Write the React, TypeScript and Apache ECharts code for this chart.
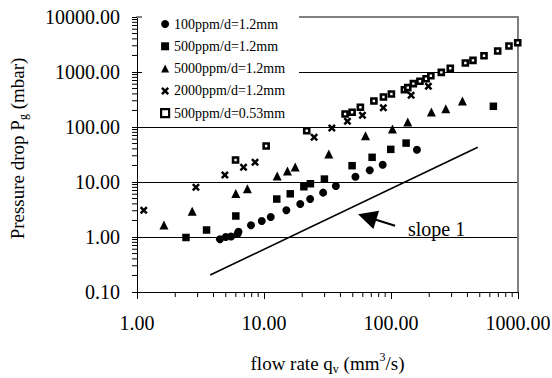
import React, { useEffect, useRef } from 'react';
import * as echarts from 'echarts';

const FONT = 'Liberation Serif';

// 100ppm/d=1.2mm (filled circles)
const c100X = [4.5, 5.0, 5.5, 6.2, 6.3, 7.9, 9.6, 11.3, 15.0, 19.3, 23.1, 29.2, 36.8, 52.5, 68, 86, 160];
const c100Y = [0.91, 1.0, 1.02, 1.15, 1.25, 1.63, 1.95, 2.31, 3.06, 3.98, 4.9, 6.4, 8.45, 12.5, 16.3, 20.6, 38.6];
// 500ppm/d=1.2mm (filled squares)
const s500X = [2.43, 3.53, 6.0, 12.6, 16.1, 20.6, 23.2, 29.9, 49.4, 71, 99.6, 131.5, 640];
const s500Y = [0.98, 1.34, 2.41, 4.9, 6.1, 8.2, 9.3, 11.3, 19.8, 28.1, 39.2, 51, 238];
// 5000ppm/d=1.2mm (triangles)
const t5000X = [1.63, 2.72, 6.0, 7.4, 12.7, 15.3, 17.6, 32.4, 63, 102.6, 135.5, 208, 270, 365];
const t5000Y = [1.65, 2.93, 6.2, 7.5, 12.9, 15.9, 18.7, 32.3, 69.5, 92, 123, 187, 215, 297];
// 2000ppm/d=1.2mm (crosses)
const x2000X = [1.13, 2.91, 4.92, 6.9, 8.5, 24.8, 34.2, 45.4, 59.6, 87, 144, 197];
const x2000Y = [3.06, 8.0, 13.4, 18.5, 22.8, 65, 96, 127, 163, 224, 377, 549];
// 500ppm/d=0.53mm (open squares)
const o500X = [5.97, 10.4, 21.7, 43.5, 49.4, 57.4, 73.3, 87.2, 100.7, 127.5, 135.6, 150, 169, 189, 206, 249, 293, 385, 442, 540, 692, 849, 995];
const o500Y = [25.1, 45.2, 85.7, 172, 185, 228, 297, 351, 398, 477, 519, 614, 677, 756, 857, 986, 1167, 1460, 1630, 1980, 2410, 2970, 3410];

// slope-1 reference line and arrow (data coordinates)
const slopeLine = [[3.77, 0.204], [482, 42.8]];
const arrowTail = [107.7, 1.6];
const arrowHead = [64.9, 2.31];

const seriesNames = ['100ppm/d=1.2mm', '500ppm/d=1.2mm', '5000ppm/d=1.2mm', '2000ppm/d=1.2mm', '500ppm/d=0.53mm'];

const xMinorTicks = [2, 3, 4, 5, 6, 7, 8, 9, 20, 30, 40, 50, 60, 70, 80, 90, 200, 300, 400, 500, 600, 700, 800, 900];
const yMinorTicks = [0.2, 0.3, 0.4, 0.5, 0.6, 0.7, 0.8, 0.9, 2, 3, 4, 5, 6, 7, 8, 9, 20, 30, 40, 50, 60, 70, 80, 90,
  200, 300, 400, 500, 600, 700, 800, 900, 2000, 3000, 4000, 5000, 6000, 7000, 8000, 9000];

const zip = (a: number[], b: number[]) => a.map((v, i) => [v, b[i]]);

const CROSS = 'path://M0,2.2 L2.2,0 L5,2.8 L7.8,0 L10,2.2 L7.2,5 L10,7.8 L7.8,10 L5,7.2 L2.2,10 L0,7.8 L2.8,5 Z';

export default function App() {
  const ref = useRef<HTMLDivElement>(null);
  useEffect(() => {
    document.body.style.margin = '0';
    const chart = echarts.init(ref.current!, null, { renderer: 'svg' });
    const option: any = {
      animation: false,
      backgroundColor: '#fff',
      grid: { left: 137, top: 17, width: 381, height: 275, containLabel: false, outerBoundsMode: 'none' },
      xAxis: [
        {
          type: 'log', logBase: 10, min: 1, max: 1000,
          axisLine: { show: true, lineStyle: { color: '#000', width: 1 } },
          axisTick: { show: true, length: 7, lineStyle: { color: '#000' } },
          axisLabel: { color: '#000', fontFamily: FONT, fontSize: 20, margin: 21, formatter: (v: number) => Number(v).toFixed(2) },
          splitLine: { show: false },
        },
        {
          type: 'log', logBase: 10, min: 1, max: 1000, position: 'top',
          axisLine: { show: true, lineStyle: { color: '#808080', width: 2 } },
          axisTick: { show: false }, axisLabel: { show: false }, splitLine: { show: false },
        },
      ],
      yAxis: [
        {
          type: 'log', logBase: 10, min: 0.1, max: 10000,
          axisLine: { show: true, lineStyle: { color: '#000', width: 1 } },
          axisTick: { show: true, length: 5, lineStyle: { color: '#000' } },
          axisLabel: { color: '#000', fontFamily: FONT, fontSize: 20, margin: 17, formatter: (v: number) => Number(v).toFixed(2) },
          splitLine: { show: true, showMinLine: false, showMaxLine: false, lineStyle: { color: '#000', width: 1 } },
        },
        {
          type: 'log', logBase: 10, min: 0.1, max: 10000, position: 'right',
          axisLine: { show: true, lineStyle: { color: '#808080', width: 2 } },
          axisTick: { show: false }, axisLabel: { show: false }, splitLine: { show: false },
        },
      ],
      legend: {
        data: [
          seriesNames[0], seriesNames[1], seriesNames[2], seriesNames[3],
          { name: seriesNames[4], itemStyle: { borderWidth: 2.2 } },
        ],
        orient: 'vertical',
        left: 160,
        top: 17,
        padding: 0,
        itemWidth: 8,
        itemHeight: 8,
        itemGap: 8.3,
        z: 6,
        textStyle: { fontFamily: FONT, fontSize: 14, color: '#000', lineHeight: 14, padding: 0 },
      },
      graphic: [
        { type: 'rect', shape: { x: 142, y: 0, width: 157, height: 118 }, style: { fill: '#fff' }, z: 3, silent: true },
        {
          type: 'text', x: 17, y: 148.5, rotation: Math.PI / 2, z: 5,
          style: {
            text: '{a|Pressure drop P}{s|g}{a| (mbar)}',
            align: 'center', verticalAlign: 'middle',
            rich: {
              a: { fontFamily: FONT, fontSize: 19, fill: '#000', lineHeight: 24, verticalAlign: 'middle' },
              s: { fontFamily: FONT, fontSize: 12, fill: '#000', lineHeight: 24, verticalAlign: 'bottom' },
            },
          },
        },
        {
          type: 'text', x: 327.5, y: 363, z: 5,
          style: {
            text: '{a|flow rate q}{s|v}{a| (mm}{p|3}{a|/s)}',
            align: 'center', verticalAlign: 'middle',
            rich: {
              a: { fontFamily: FONT, fontSize: 19, fill: '#000', lineHeight: 24, verticalAlign: 'middle' },
              s: { fontFamily: FONT, fontSize: 12, fill: '#000', lineHeight: 24, verticalAlign: 'bottom' },
              p: { fontFamily: FONT, fontSize: 12, fill: '#000', lineHeight: 24, verticalAlign: 'top' },
            },
          },
        },
        {
          type: 'text', x: 408, y: 229, z: 5,
          style: { text: 'slope 1', fontFamily: FONT, fontSize: 20, fill: '#000', align: 'left', verticalAlign: 'middle' },
        },
      ],
      series: [
        {
          name: seriesNames[0], type: 'scatter', data: zip(c100X, c100Y), symbol: 'circle', symbolSize: 8,
          itemStyle: { color: '#000', opacity: 1 }, z: 4,
        },
        {
          name: seriesNames[1], type: 'scatter', data: zip(s500X, s500Y), symbol: 'rect', symbolSize: 7.5,
          itemStyle: { color: '#000', opacity: 1 }, z: 4,
        },
        {
          name: seriesNames[2], type: 'scatter', data: zip(t5000X, t5000Y), symbol: 'triangle', symbolSize: 9,
          itemStyle: { color: '#000', opacity: 1 }, z: 4,
        },
        {
          name: seriesNames[3], type: 'scatter', data: zip(x2000X, x2000Y), symbol: CROSS, symbolSize: 8,
          itemStyle: { color: '#000', opacity: 1 }, z: 4,
        },
        {
          name: seriesNames[4], type: 'scatter', data: zip(o500X, o500Y), symbol: 'rect', symbolSize: 5,
          itemStyle: { color: '#fff', borderColor: '#000', borderWidth: 2.6, opacity: 1 }, z: 4,
        },
        {
          name: 'slope', type: 'line', data: slopeLine, showSymbol: false, symbol: 'none',
          lineStyle: { color: '#000', width: 1.6 }, z: 3, silent: true,
          markLine: {
            silent: true, animation: false,
            lineStyle: { color: '#000', width: 2, type: 'solid' },
            label: { show: false },
            data: [[
              { coord: arrowTail, symbol: 'none' },
              { coord: arrowHead, symbol: 'triangle', symbolSize: 19 },
            ]],
          },
        },
        {
          name: 'xminor', type: 'custom', silent: true, clip: false, z: 2,
          data: xMinorTicks.map((v) => [v, 0.1]),
          renderItem: (params: any, api: any) => {
            const p = api.coord([api.value(0), api.value(1)]);
            return { type: 'line', shape: { x1: p[0], y1: p[1], x2: p[0], y2: p[1] + 5 }, style: { stroke: '#000', lineWidth: 1 } };
          },
        },
        {
          name: 'yminor', type: 'custom', silent: true, clip: false, z: 2,
          data: yMinorTicks.map((v) => [1, v]),
          renderItem: (params: any, api: any) => {
            const p = api.coord([api.value(0), api.value(1)]);
            return { type: 'line', shape: { x1: p[0] - 5, y1: p[1], x2: p[0], y2: p[1] }, style: { stroke: '#000', lineWidth: 1 } };
          },
        },
      ],
    };
    chart.setOption(option);
    return () => chart.dispose();
  }, []);
  return <div ref={ref} style={{ width: 552, height: 378 }} />;
}
